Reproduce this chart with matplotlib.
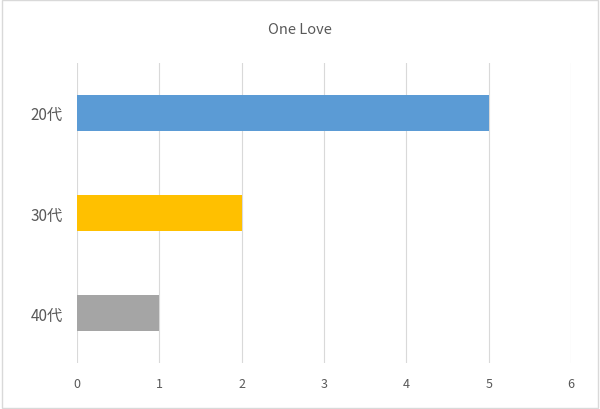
import matplotlib
matplotlib.use("Agg")
import matplotlib.pyplot as plt
from matplotlib.patches import Rectangle

categories = ["20代", "30代", "40代"]
values = [5, 2, 1]
colors = ["#5B9BD5", "#FFC000", "#A5A5A5"]
xticks = [0, 1, 2, 3, 4, 5, 6]

plt.rcParams['font.family'] = ['Noto Sans CJK JP', 'DejaVu Sans']
fig = plt.figure(figsize=(6, 4.1), dpi=100)
fig.patches.append(Rectangle((0.003, 0.003), 0.994, 0.994, transform=fig.transFigure,
                             fill=False, edgecolor="#D9D9D9", linewidth=1))
ax = fig.add_axes([0.128, 0.112, 0.824, 0.732])
ax.barh(range(len(categories)), values, height=0.36, color=colors, zorder=3)
ax.set_xlim(0, 6)
ax.set_ylim(2.5, -0.5)
ax.set_xticks(xticks)
ax.set_yticks(range(len(categories)))
ax.set_yticklabels(categories, fontsize=11, color="#595959")
ax.tick_params(axis='x', labelsize=9, colors="#595959", length=0, pad=10)
ax.tick_params(axis='y', length=0, pad=10)
ax.grid(axis='x', color="#D9D9D9", linewidth=0.8, zorder=0)
for s in ax.spines.values():
    s.set_visible(False)
fig.text(0.5, 0.927, "One Love", ha='center', va='center', fontsize=10.5, color="#595959")
fig.savefig("out.png", dpi=100)
